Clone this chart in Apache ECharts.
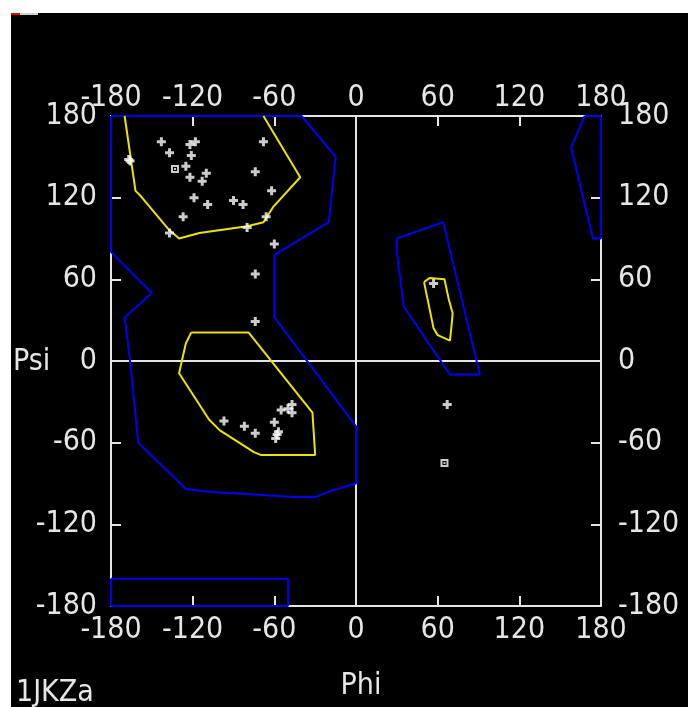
<!DOCTYPE html>
<html>
<head>
<meta charset="utf-8">
<script src="https://cdn.jsdelivr.net/npm/echarts@6/dist/echarts.min.js"></script>
<style>
html,body{margin:0;padding:0;background:#ffffff;width:688px;height:707px;overflow:hidden;}
#chart{position:absolute;left:11px;top:13px;width:677px;height:694px;background:#000000;}
</style>
</head>
<body>
<div id="chart"></div>
<script>
// Axis ticks (degrees)
const axisTicks = [-180, -120, -60, 0, 60, 120, 180];

// Blue "generously allowed" region outlines [phi, psi]
const blueRegion1 = [[-180,180],[-40,180],[-15,150],[-20,102],[-60,78],[-60,32],[0,-48],[0,-90],[-17,-95],[-30,-100],[-45,-100],[-75,-98],[-108,-96],[-125,-94],[-160,-60],[-166,0],[-170,32],[-150,50],[-180,80],[-180,180]];
const blueRegion2 = [[-180,-160],[-50,-160],[-50,-180],[-180,-180],[-180,-160]];
const blueRegion3 = [[30,90],[64,102],[91,-10],[69,-10],[35,40],[30,80],[30,90]];
const blueRegion4 = [[168,180],[180,180],[180,90],[174,90],[158,157],[168,180]];

// Yellow "core" region outlines [phi, psi]
const yellowRegion1 = [[-170,180],[-162,125],[-158,121],[-138,97],[-130,90],[-115,94],[-80,99],[-68,102],[-61,113],[-41,135],[-68,180]];
const yellowRegion2 = [[-121,21],[-79,21],[-32,-38],[-30,-69],[-70,-69],[-75,-67],[-100,-51],[-108,-43],[-130,-9],[-125,13],[-121,21]];
const yellowRegion3 = [[50,58],[54,61],[65,60],[68,46],[71,35],[70,24],[69,15],[60,19],[57,24],[51,53],[50,58]];

// Residues (non-glycine) [phi, psi]
const residues = [[-143,161],[-122,159],[-118,161],[-137,153],[-121,151],[-167,148],[-166,147],[-125,143],[-122,135],[-110,138],[-113,132],[-68,161],[-74,139],[-62,125],[-119,120],[-109,115],[-90,118],[-83,115],[-127,106],[-66,106],[-137,94],[-80,98],[-60,86],[-74,64],[-74,29],[-97,-44],[-82,-48],[-74,-53],[-60,-45],[-58,-54],[-57,-52],[-59,-57],[-55,-36],[-50,-35],[-47,-32],[-47,-38],[57,57],[67,-32]];
// Glycine residues [phi, psi]
const glycines = [[-133,141],[65,-75]];

// Zero lines
const zeroPhi = [[0,-180],[0,180]];
const zeroPsi = [[-180,0],[180,0]];

const FRAME = '#e6e6e6';
const BLUE = '#0000f0';
const YELLOW = '#ece400';
const FONT = "'Liberation Sans Narrow', 'DejaVu Sans Condensed', 'Arial Narrow', sans-serif";
const amin = axisTicks[0], amax = axisTicks[axisTicks.length-1], step = axisTicks[1]-axisTicks[0];

function makeAxis(position, margin) {
  return {
    type: 'value', position: position, min: amin, max: amax, interval: step,
    axisLine: {show: true, onZero: false, lineStyle: {color: FRAME, width: 2}},
    axisTick: {show: true, inside: true, length: 10, lineStyle: {color: FRAME, width: 2}},
    axisLabel: {show: true, color: FRAME, fontSize: 30, fontFamily: FONT, margin: margin, showMinLabel: true, showMaxLabel: true},
    splitLine: {show: false}
  };
}

function lineSeries(data, color) {
  return {type: 'line', data: data, showSymbol: false, symbol: 'none', clip: false, silent: true,
          lineStyle: {color: color, width: 2}, animation: false, z: 3};
}

const chart = echarts.init(document.getElementById('chart'), null, {renderer: 'canvas'});
chart.setOption({
  backgroundColor: '#000000',
  animation: false,
  grid: {left: 100, top: 103, width: 490, height: 490, containLabel: false, outerBoundsMode: 'none'},
  xAxis: [makeAxis('bottom', 9), makeAxis('top', 3)],
  yAxis: [makeAxis('left', 14), makeAxis('right', 17)],
  graphic: [
    {type: 'rect', shape: {x: 0, y: 0, width: 9, height: 2}, style: {fill: '#e00000'}},
    {type: 'rect', shape: {x: 9, y: 0, width: 18, height: 2}, style: {fill: '#d0d0d0'}},
    {type: 'text', style: {text: 'Psi', x: 2, y: 349, fill: FRAME, font: '30px ' + FONT, textVerticalAlign: 'middle'}},
    {type: 'text', style: {text: 'Phi', x: 350, y: 673, fill: FRAME, font: '30px ' + FONT, textAlign: 'center', textVerticalAlign: 'middle'}},
    {type: 'text', style: {text: '1JKZa', x: 5, y: 680, fill: FRAME, font: '30px ' + FONT, textVerticalAlign: 'middle'}}
  ],
  series: [
    Object.assign(lineSeries(zeroPhi, FRAME), {z: 1}),
    Object.assign(lineSeries(zeroPsi, FRAME), {z: 1}),
    lineSeries(blueRegion1, BLUE),
    lineSeries(blueRegion2, BLUE),
    lineSeries(blueRegion3, BLUE),
    lineSeries(blueRegion4, BLUE),
    lineSeries(yellowRegion1, YELLOW),
    lineSeries(yellowRegion2, YELLOW),
    lineSeries(yellowRegion3, YELLOW),
    {type: 'scatter', data: residues, symbol: 'path://M3,0H6V3H9V6H6V9H3V6H0V3H3Z', symbolSize: 9,
     itemStyle: {color: '#ffffff'}, z: 5, animation: false, clip: false},
    {type: 'scatter', data: glycines, symbol: 'path://M0,0H8V8H0Z M2,2V6H6V2Z M3,3H5V5H3Z', symbolSize: 8,
     itemStyle: {color: '#ffffff'}, z: 5, animation: false, clip: false}
  ]
});
</script>
</body>
</html>
